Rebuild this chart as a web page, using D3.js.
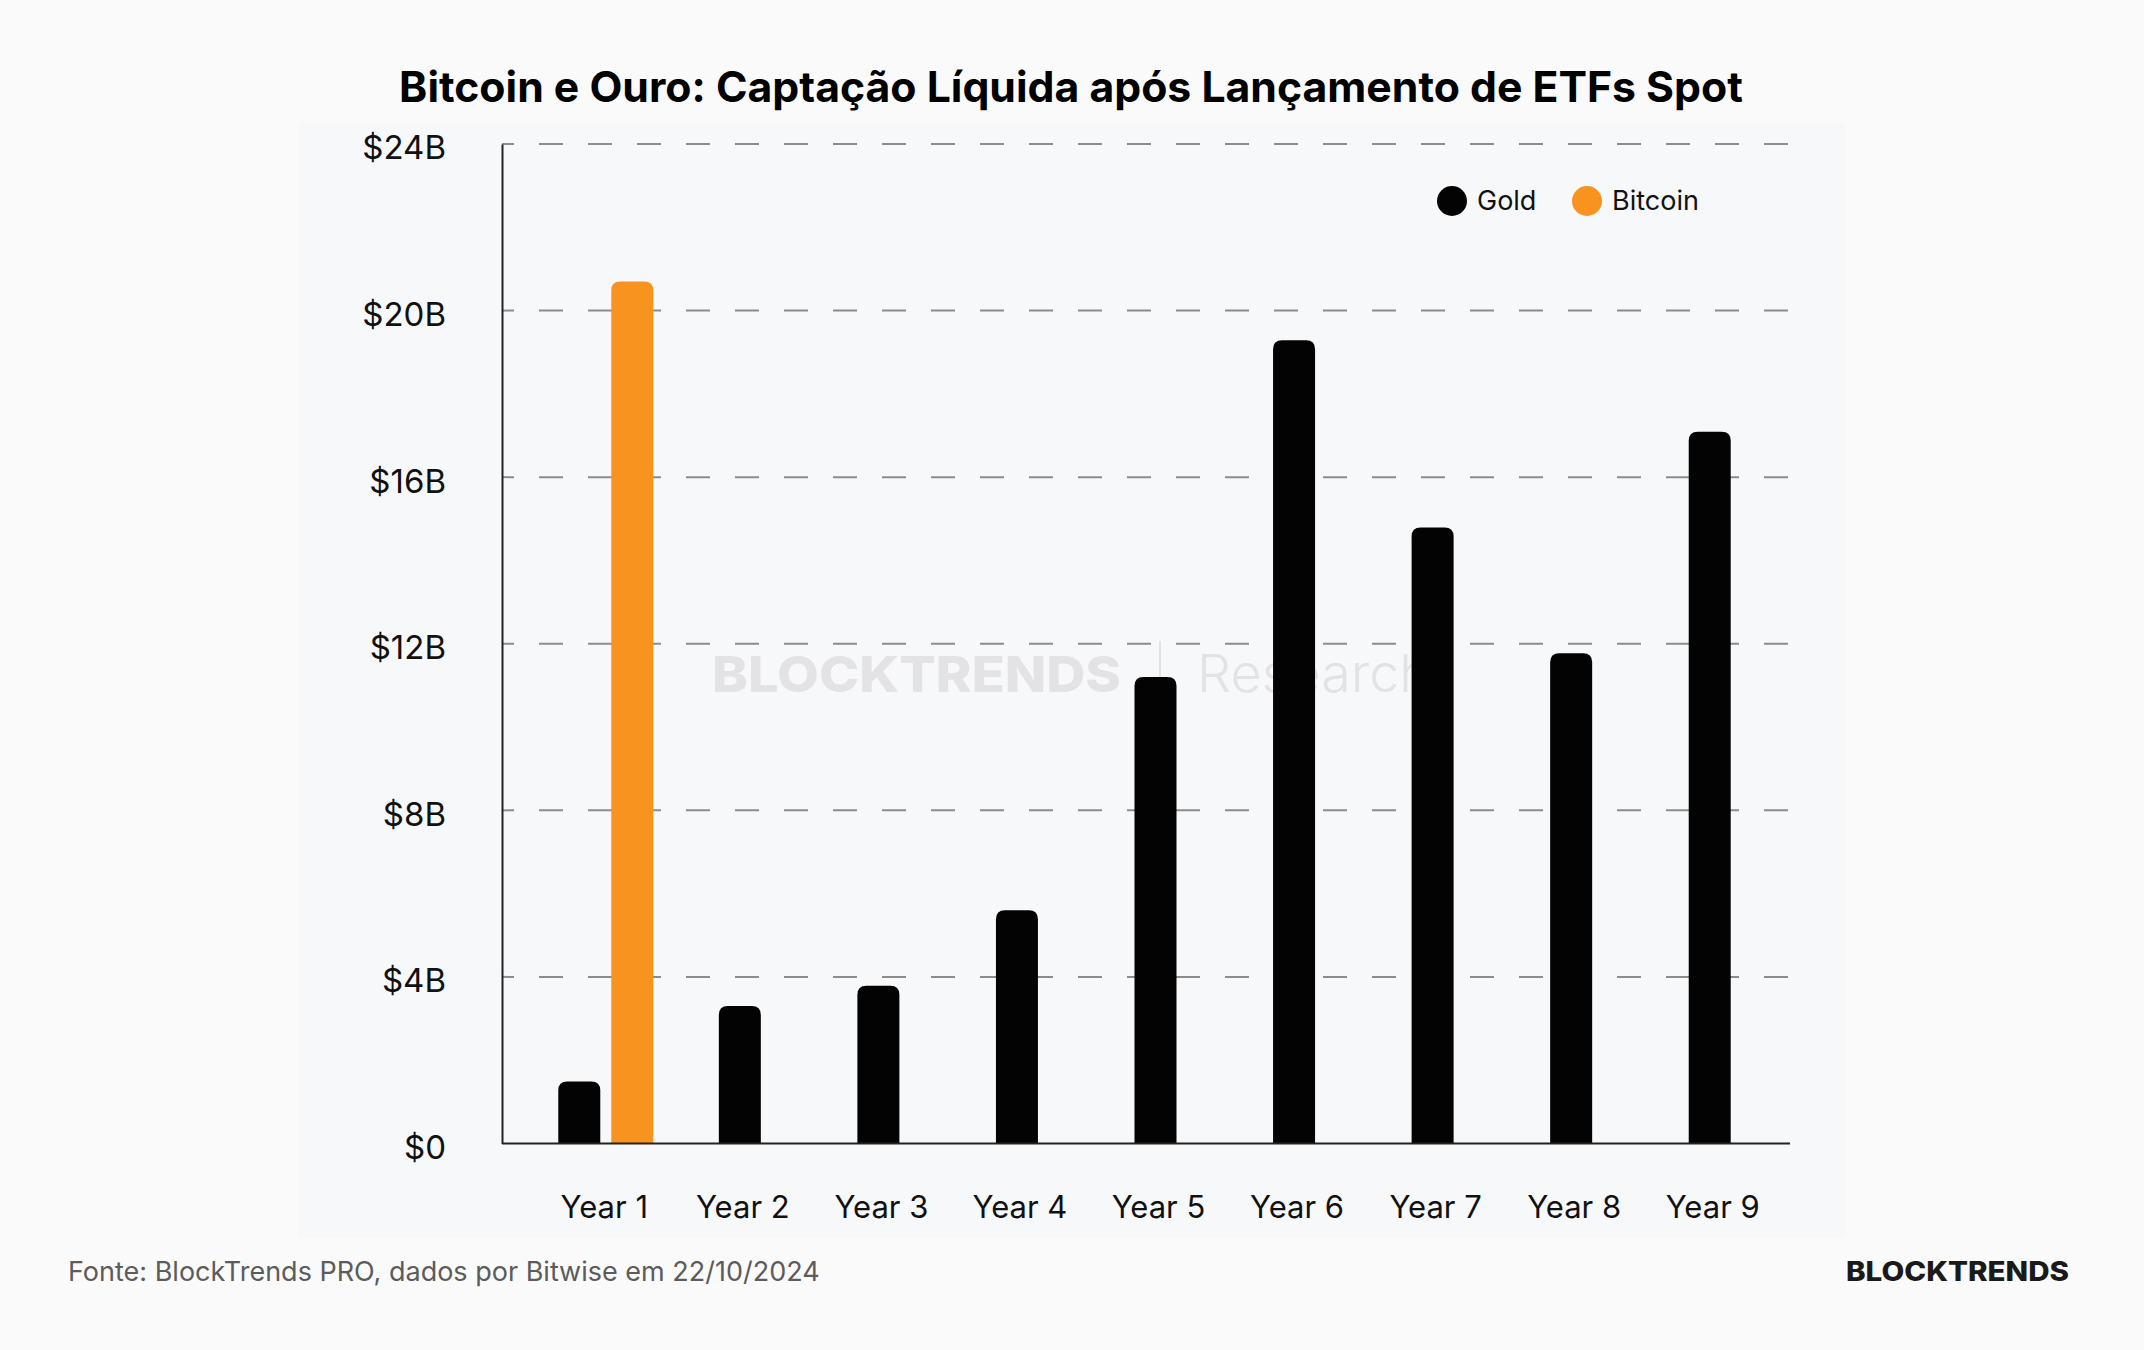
<!DOCTYPE html>
<html lang="pt">

<head>
  <meta charset="utf-8">
  <script src="https://d3js.org/d3.v7.min.js"></script>
  <style>
    body {
      margin: 0;
      background: #fafafa;
    }

    svg {
      display: block;
      font-family: Inter, "Noto Sans", sans-serif;
    }
  </style>
</head>

<body>
  <svg width="2144" height="1350"></svg>
  <script>
    // data (billions USD)
    const years = ["Year 1", "Year 2", "Year 3", "Year 4", "Year 5", "Year 6", "Year 7", "Year 8", "Year 9"];
    const gold = [1.49, 3.30, 3.79, 5.60, 11.20, 19.29, 14.79, 11.77, 17.09];
    const bitcoin = [20.70, null, null, null, null, null, null, null, null];
    const yTicks = [0, 4, 8, 12, 16, 20, 24];
    const seriesNames = ["Gold", "Bitcoin"];
    const colors = { Gold: "#030303", Bitcoin: "#f7931e" };

    const svg = d3.select("svg");

    // panel background
    svg.append("rect")
      .attr("x", 298).attr("y", 124)
      .attr("width", 1547).attr("height", 1114)
      .attr("fill", "#f7f8fa");

    const x = d3.scaleBand().domain(years).range([532, 1779]);
    const y = d3.scaleLinear().domain([0, 24]).range([1143.5, 144]);
    const left = 502, right = 1790;

    // title
    const title = svg.append("text")
      .attr("x", 1071).attr("y", 102)
      .attr("text-anchor", "middle")
      .attr("font-size", 40).attr("font-weight", 700)
      .attr("fill", "#000")
      .text("Bitcoin e Ouro: Captação Líquida após Lançamento de ETFs Spot");
    const tw = title.node().getComputedTextLength();
    title.attr("font-size", 40 * 1344 / tw);

    // gridlines
    svg.append("g")
      .selectAll("line")
      .data(yTicks.filter(d => d > 0))
      .join("line")
      .attr("x1", left).attr("x2", right)
      .attr("y1", d => y(d)).attr("y2", d => y(d))
      .attr("stroke", "#8c8c8c")
      .attr("stroke-width", 2)
      .attr("stroke-dasharray", "24 25")
      .attr("stroke-dashoffset", 12);

    // watermark
    const wm = svg.append("g").attr("fill", "#e3e3e5");
    wm.append("text")
      .attr("x", 712).attr("y", 692)
      .attr("font-size", 50).attr("font-weight", 800)
      .attr("textLength", 409).attr("lengthAdjust", "spacingAndGlyphs")
      .text("BLOCKTRENDS");
    wm.append("line")
      .attr("x1", 1160).attr("x2", 1160).attr("y1", 641).attr("y2", 707)
      .attr("stroke", "#e3e3e5").attr("stroke-width", 2);
    wm.append("text")
      .attr("x", 1197).attr("y", 692)
      .attr("font-size", 52).attr("font-weight", 300)
      .attr("textLength", 234).attr("lengthAdjust", "spacingAndGlyphs")
      .text("Research");

    // bars (year 1 pair sits a little right of the band centre)
    const barW = 42, r = 9;
    const bars = [];
    years.forEach((yr, i) => {
      const c = x(yr) + x.bandwidth() / 2;
      if (bitcoin[i] != null) {
        bars.push({ cx: c - 22, v: gold[i], s: "Gold" });
        bars.push({ cx: c + 31, v: bitcoin[i], s: "Bitcoin" });
      } else {
        bars.push({ cx: c, v: gold[i], s: "Gold" });
      }
    });

    function topRounded(cx, v) {
      const x0 = cx - barW / 2, x1 = cx + barW / 2;
      const yt = y(v), yb = y(0);
      return `M${x0},${yb}V${yt + r}Q${x0},${yt} ${x0 + r},${yt}H${x1 - r}Q${x1},${yt} ${x1},${yt + r}V${yb}Z`;
    }

    svg.append("g")
      .selectAll("path")
      .data(bars)
      .join("path")
      .attr("d", d => topRounded(d.cx, d.v))
      .attr("fill", d => colors[d.s]);

    // axes
    const yAxis = svg.append("g")
      .attr("transform", `translate(${left},0)`)
      .call(d3.axisLeft(y).tickValues(yTicks)
        .tickFormat(d => d === 0 ? "$0" : `$${d}B`)
        .tickSize(0).tickPadding(56));
    yAxis.select(".domain").attr("stroke", "#222").attr("stroke-width", 2);
    yAxis.selectAll("text")
      .attr("font-family", "Inter, sans-serif")
      .attr("dy", "0.45em")
      .attr("font-size", 33).attr("fill", "#111");

    const xAxis = svg.append("g")
      .attr("transform", `translate(0,${y(0)})`)
      .call(d3.axisBottom(x).tickSize(0).tickPadding(52));
    xAxis.select(".domain")
      .attr("d", `M${left},0H${right}`)
      .attr("stroke", "#222").attr("stroke-width", 2);
    xAxis.selectAll("text")
      .attr("font-family", "Inter, sans-serif")
      .attr("font-size", 31).attr("fill", "#111");
    xAxis.selectAll(".tick").attr("transform", d => `translate(${x(d) + x.bandwidth() / 2 + 3},0)`);

    // legend
    const legendX = [1452, 1587];
    const lg = svg.append("g")
      .selectAll("g")
      .data(seriesNames)
      .join("g")
      .attr("transform", (d, i) => `translate(${legendX[i]},201)`);
    lg.append("circle").attr("r", 15).attr("fill", d => colors[d]);
    lg.append("text")
      .attr("x", 25).attr("dy", "0.35em")
      .attr("font-size", 27).attr("fill", "#111")
      .text(d => d);

    // footer
    svg.append("text")
      .attr("x", 68).attr("y", 1281)
      .attr("font-size", 27).attr("fill", "#5c5c5c")
      .text("Fonte: BlockTrends PRO, dados por Bitwise em 22/10/2024");
    svg.append("text")
      .attr("x", 1846).attr("y", 1281)
      .attr("font-size", 27).attr("font-weight", 800).attr("fill", "#1a1a1a")
      .attr("textLength", 223).attr("lengthAdjust", "spacingAndGlyphs")
      .text("BLOCKTRENDS");
  </script>
</body>

</html>
